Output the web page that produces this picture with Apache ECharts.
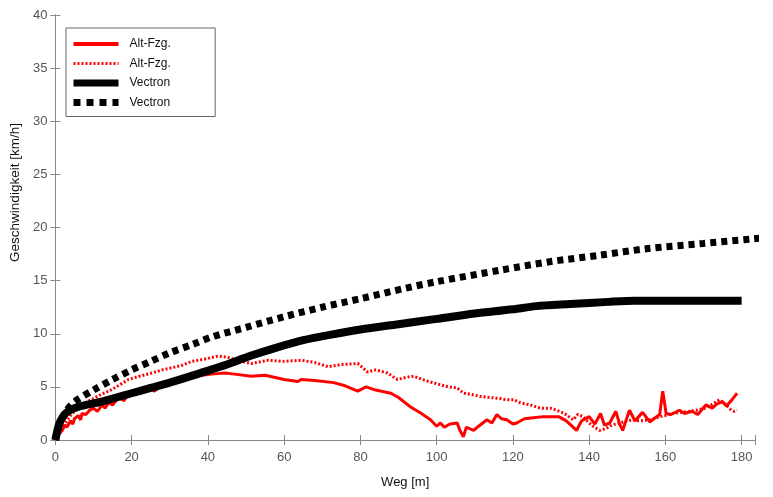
<!DOCTYPE html>
<html>
<head>
<meta charset="utf-8">
<script src="https://cdn.jsdelivr.net/npm/echarts@6/dist/echarts.min.js"></script>
<style>html,body{margin:0;padding:0;background:#fff;}#c{width:773px;height:497px;}</style>
</head>
<body>
<div id="c"></div>
<script>
// Alt-Fzg. (solid)
var altSolidX = [0,0.8,1.8,2.5,3,4,4.6,5,6,6.6,7,8,9,10,11,12.3,13,14,15,16.6,18,19,20,22.7,25,26,28,30,33,35,38.4,41,44.4,47,51.4,55,60,63.6,64.5,68,73,76,79.3,81.5,84,88,90,93.2,96,98.4,100,101,102,103.5,105.4,106,107,107.8,109.7,111,113.2,114.5,115.8,117,118.4,120,121,123,125.4,128,130,132,134,136.7,138,140,141.5,143,144,145.4,147,148,148.8,150,150.6,152,153,154,155.9,157,158.5,159.3,160.2,161.5,163.7,165,167,168.5,170.6,172.3,173.5,175,176,177.5,178.8];
var altSolidY = [0,0.5,0.9,1.4,1.2,1.8,1.5,2.0,2.3,1.9,2.5,2.4,2.8,3.0,2.7,3.3,3.0,3.5,3.3,4.0,3.7,4.3,4.2,4.6,4.8,4.6,5.2,5.4,5.8,5.9,6.1,6.2,6.3,6.2,6.0,6.1,5.7,5.5,5.7,5.6,5.4,5.1,4.6,5.0,4.7,4.4,4.0,3.1,2.5,1.9,1.3,1.6,1.2,1.5,1.6,1.0,0.3,1.2,0.9,1.3,1.9,1.6,2.4,2.0,1.9,1.5,1.6,2.0,2.1,2.2,2.2,2.2,1.8,0.9,1.8,2.2,1.5,2.5,1.4,1.6,2.7,1.5,0.9,2.2,2.8,1.8,2.2,2.6,1.7,2.0,2.4,4.6,2.5,2.4,2.8,2.5,2.7,2.4,3.3,3.0,3.4,3.6,3.2,3.8,4.4];
// Alt-Fzg. (dotted)
var altDotX = [0,1,2,3,4,5,6,7.8,10,12,14,16,19.2,22,25.3,28,30.5,33,35.8,39,42.7,45,47.9,51.4,55.8,60,64.5,68,71.5,75,79.3,81.9,84,87.1,89.7,92,94,97,101,103,105.4,107.1,109,111.5,114,116.7,118,120.2,122,124.5,127.2,129.8,131.5,133.5,135.8,137,138.4,140,141,142.8,144.5,146,148,150,151.4,153,155.9,158.5,160,161.9,164,166.3,168,170.6,172,174.2,175.9,177,178,178.8];
var altDotY = [0,0.6,1.2,1.8,2.3,2.7,3.0,3.5,3.9,4.3,4.6,5.0,5.7,6.0,6.3,6.6,6.8,7.0,7.4,7.6,7.9,7.8,7.5,7.2,7.5,7.4,7.5,7.3,6.9,7.1,7.2,6.4,6.6,6.3,5.7,5.9,6.0,5.6,5.2,5.0,4.9,4.4,4.3,4.1,4.0,3.9,3.8,3.8,3.5,3.3,3.0,3.0,2.8,2.5,1.9,2.4,2.2,1.6,1.3,0.9,1.1,1.4,1.6,1.8,1.9,1.8,1.9,2.2,2.3,2.5,2.6,2.7,2.8,3.0,3.3,3.8,3.3,2.9,2.7,2.8];
// Vectron (solid)
var vecSolidX = [0,1,2,3,5,8,12,16,20,25,30,38,45,51,58,65,72,80,90,100,110,120,126,135,145,152,160,170,180];
var vecSolidY = [0,1.5,2.2,2.6,3.0,3.3,3.6,4.0,4.4,4.9,5.4,6.3,7.1,7.9,8.7,9.4,9.9,10.4,10.9,11.4,11.9,12.3,12.6,12.8,13.0,13.1,13.1,13.1,13.1];
// Vectron (dotted)
var vecDotX = [0,1,2,3,5,10,15,20,25,30,36,41,50,60,70,80,92,100,117,130,143,155,170,185];
var vecDotY = [0,1.4,2.2,2.8,3.6,4.7,5.7,6.6,7.4,8.2,9.0,9.7,10.6,11.6,12.5,13.3,14.3,14.9,16.0,16.8,17.4,18.0,18.5,19.0];

var xTicks = [0,20,40,60,80,100,120,140,160,180];
var yTicks = [0,5,10,15,20,25,30,35,40];
var legendNames = ['Alt-Fzg.', 'Alt-Fzg. ', 'Vectron', 'Vectron '];

function pairs(xs, ys){ return xs.map(function(x,i){ return [x, ys[i]]; }); }

var chart = echarts.init(document.getElementById('c'), null, {renderer:'canvas'});
var axisGray = '#8a8a8a';
var font = 'Liberation Sans, Arial, sans-serif';
function xLab(v){ return xTicks.indexOf(v) >= 0 ? String(v) : ''; }
function yLab(v){ return yTicks.indexOf(v) >= 0 ? String(v) : ''; }

var option = {
  animation: false,
  backgroundColor: '#fff',
  grid: {left: 53, top: 15, right: 18, bottom: 57, containLabel: false},
  legend: {
    orient: 'vertical', left: 66, top: 28,
    padding: [10, 41, 8, 4], itemGap: 7.5, itemWidth: 45, itemHeight: 12,
    borderColor: '#666', borderWidth: 1, backgroundColor: '#fff',
    itemStyle: {opacity: 0},
    textStyle: {fontFamily: font, fontSize: 12, color: '#111', padding: [0,0,0,6]},
    data: [
      {name: legendNames[0], lineStyle: {width: 4, color: '#ff0000'}},
      {name: legendNames[1], lineStyle: {width: 3, color: '#ff0000', type: [2, 2]}},
      {name: legendNames[2], lineStyle: {width: 7, color: '#000'}},
      {name: legendNames[3], lineStyle: {width: 7, color: '#000', type: [7, 6]}}
    ]
  },
  xAxis: [{
    type: 'value', min: 0, max: 183.5, interval: 20,
    name: 'Weg [m]', nameLocation: 'middle', nameGap: 36,
    nameTextStyle: {fontFamily: font, fontSize: 13, color: '#111'},
    axisLine: {show: true, lineStyle: {color: axisGray, width: 1}},
    axisTick: {show: true, inside: true, length: 5, lineStyle: {color: axisGray}},
    axisLabel: {formatter: xLab, fontFamily: font, fontSize: 13, color: '#555', margin: 11},
    splitLine: {show: false}
  }, {
    type: 'value', position: 'top', min: 0, max: 183.5, interval: 20,
    axisLine: {show: true, lineStyle: {color: axisGray, width: 1}},
    axisTick: {show: true, inside: true, length: 5, lineStyle: {color: axisGray}},
    axisLabel: {show: false}, splitLine: {show: false}
  }],
  yAxis: [{
    type: 'value', min: 0, max: 40, interval: 5,
    name: 'Geschwindigkeit [km/h]', nameLocation: 'middle', nameGap: 22,
    nameTextStyle: {fontFamily: font, fontSize: 13.5, color: '#111', padding: [0, 0, 0, 70]},
    axisLine: {show: true, lineStyle: {color: axisGray, width: 1}},
    axisTick: {show: true, inside: true, length: 5, lineStyle: {color: axisGray}},
    axisLabel: {formatter: yLab, fontFamily: font, fontSize: 13, color: '#555', margin: 8},
    splitLine: {show: false}
  }, {
    type: 'value', position: 'right', min: 0, max: 40, interval: 5,
    axisLine: {show: true, lineStyle: {color: axisGray, width: 1}},
    axisTick: {show: true, inside: true, length: 5, lineStyle: {color: axisGray}},
    axisLabel: {show: false}, splitLine: {show: false}
  }],
  series: [
    {name: legendNames[0], type: 'line', data: pairs(altSolidX, altSolidY), showSymbol: false, symbol: 'none',
      lineStyle: {color: '#ff0000', width: 3}, itemStyle: {color: '#ff0000'}, z: 2},
    {name: legendNames[1], type: 'line', data: pairs(altDotX, altDotY), showSymbol: false, symbol: 'none',
      lineStyle: {color: '#ff0000', width: 3, type: [2, 2]}, itemStyle: {color: '#ff0000'}, z: 3},
    {name: legendNames[2], type: 'line', data: pairs(vecSolidX, vecSolidY), showSymbol: false, symbol: 'none', smooth: 0.3,
      lineStyle: {color: '#000', width: 8}, itemStyle: {color: '#000'}, z: 4},
    {name: legendNames[3], type: 'line', data: pairs(vecDotX, vecDotY), showSymbol: false, symbol: 'none', smooth: 0.3,
      lineStyle: {color: '#000', width: 7, type: [6, 5]}, itemStyle: {color: '#000'}, z: 5}
  ]
};
chart.setOption(option);
</script>
</body>
</html>
